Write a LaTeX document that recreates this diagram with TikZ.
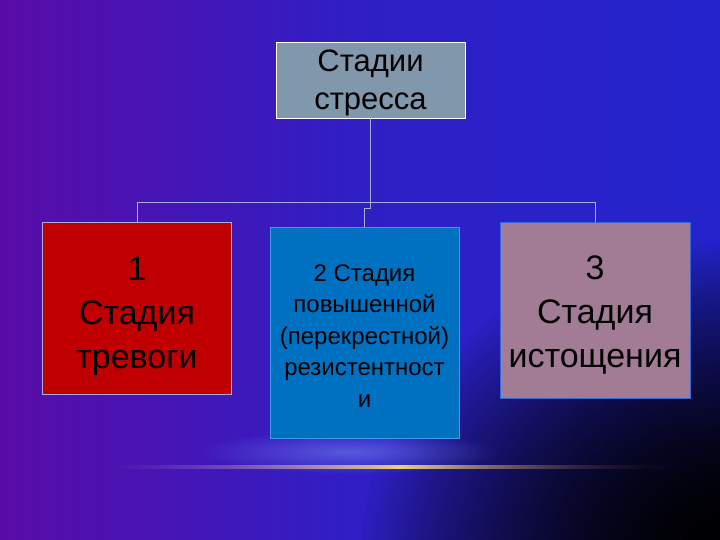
\documentclass[tikz,border=0pt]{standalone}
\usepackage{fontspec}
\setmainfont{Liberation Sans}
\usetikzlibrary{fadings}

\definecolor{bgpurple}{HTML}{5A0CA8}
\definecolor{bgblue}{HTML}{2424CC}
\definecolor{topgray}{HTML}{8197AB}
\definecolor{alarmred}{HTML}{C00000}
\definecolor{resistblue}{HTML}{0070C0}
\definecolor{resistedge}{HTML}{3C9CEA}
\definecolor{exhaustmauve}{HTML}{A27C95}
\definecolor{exhaustedge}{HTML}{3466DC}
\definecolor{linkgray}{HTML}{A8AEDA}
\definecolor{glowblue}{HTML}{7080F0}
\definecolor{lineyellow}{HTML}{F0D080}

\tikzfading[name=cornerfade, inner color=transparent!0, outer color=transparent!100]
\tikzfading[name=midfade, left color=transparent!100, right color=transparent!100, middle color=transparent!0]

\newcommand{\padtop}[1]{\rule{0pt}{#1}}

\tikzset{
  stage/.style={draw, line width=0.6pt, align=center, inner sep=2pt, text=black},
  link/.style={draw=linkgray, line width=0.6pt},
}

\begin{document}
\begin{tikzpicture}[x=1pt,y=-1pt]
        % background
        \useasboundingbox (0,0) rectangle (720,540);
        \shade[left color=bgpurple, right color=bgblue, middle color=bgblue!80!bgpurple] (0,0) rectangle (720,540);
        \fill[black, path fading=cornerfade] (740,560) ellipse [x radius=380, y radius=320];
        \fill[black, path fading=cornerfade] (740,560) ellipse [x radius=380, y radius=320];
        \fill[glowblue, opacity=0.6, path fading=cornerfade] (350,452) ellipse [x radius=150, y radius=22];
        \shade[left color=bgpurple!60!white, right color=bgpurple!30!black, middle color=lineyellow, path fading=midfade] (110,465.5) rectangle (690,468.5);
        % boxes
        \node[stage, draw=white, fill=topgray, minimum width=189, minimum height=76, inner ysep=0pt,
              font=\fontsize{31}{38}\selectfont] (top) at (370.5,80) {\padtop{28pt}Стадии\\стресса};
        \node[stage, draw=linkgray, fill=alarmred, minimum width=189, minimum height=172,
              font=\fontsize{34}{44}\selectfont] (n1) at (137,308) {\padtop{40pt}1\\Стадия\\тревоги};
        \node[stage, draw=resistedge, fill=resistblue, minimum width=189, minimum height=211,
              font=\fontsize{24}{31.5}\selectfont] (n2) at (364.5,332.5) {\padtop{23pt}2 Стадия\\повышенной\\(перекрестной)\\резистентност\\и};
        \node[stage, draw=exhaustedge, fill=exhaustmauve, minimum width=190, minimum height=176,
              font=\fontsize{34}{44}\selectfont] (n3) at (595,310) {\padtop{34pt}3\\Стадия\\истощения};
        % connectors
        \coordinate (bus) at (370.5,202);
        \draw[link] (top.south) -- (bus) -| (n1.north);
        \draw[link] (bus) -| (n3.north);
        \draw[link] (bus) -- ++(0,6) -| (n2.north);
\end{tikzpicture}
\end{document}
